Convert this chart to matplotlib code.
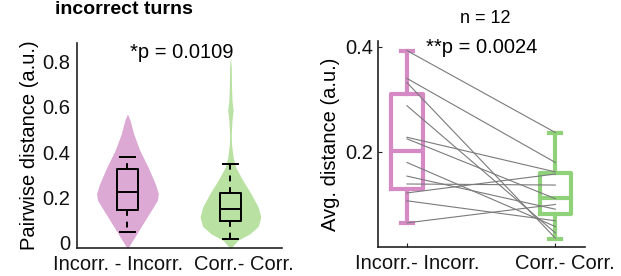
import matplotlib
matplotlib.use("Agg")
import matplotlib.pyplot as plt
import matplotlib.transforms as mtransforms
import numpy as np

plt.rcParams["font.family"] = ["Liberation Sans", "DejaVu Sans"]

# --- left panel: violin outlines (value, half width) ---
pink_y = [-0.03, 0.037, 0.111, 0.185, 0.215, 0.259, 0.333, 0.407, 0.481, 0.540, 0.570]
pink_w = [0.0, 0.09, 0.19, 0.29, 0.30, 0.27, 0.20, 0.12, 0.06, 0.026, 0.0]
green_y = [-0.03, 0.007, 0.037, 0.070, 0.111, 0.155, 0.215, 0.274, 0.333, 0.377,
           0.437, 0.480, 0.540, 0.585, 0.630, 0.700, 0.777, 0.825]
green_w = [0.0, 0.07, 0.19, 0.27, 0.295, 0.27, 0.20, 0.12, 0.05, 0.026,
           0.01, 0.008, 0.015, 0.026, 0.015, 0.01, 0.008, 0.0]

# box stats: whislo, q1, med, q3, whishi
pair_box_pink = [0.046, 0.142, 0.221, 0.323, 0.376]
pair_box_green = [0.012, 0.095, 0.147, 0.216, 0.347]

left_labels = ["Incorr. - Incorr.", "Corr.- Corr."]
left_p = "*p = 0.0109"

# --- right panel: per-animal averages ---
incorr = [0.393, 0.340, 0.332, 0.288, 0.228, 0.225, 0.180, 0.154, 0.139, 0.122, 0.107, 0.065]
corr = [0.237, 0.180, 0.036, 0.046, 0.162, 0.111, 0.058, 0.091, 0.137, 0.158, 0.069, 0.100]
avg_box_pink = [0.065, 0.130, 0.202, 0.311, 0.392]
avg_box_green = [0.035, 0.081, 0.112, 0.159, 0.236]
right_labels = ["Incorr.- Incorr.", "Corr.- Corr."]
right_p = "**p = 0.0024"
n_label = "n = 12"

pink_fill = "#dca8d4"
green_fill = "#b9e1a2"
pink_edge = "#d58ac6"
green_edge = "#8fd27a"
axis_col = "#222222"
fs = 14.5


def stats(vals):
    lo, q1, med, q3, hi = vals
    return {"whislo": lo, "q1": q1, "med": med, "q3": q3, "whishi": hi, "fliers": []}


def style_axes(ax):
    for s in ["top", "right"]:
        ax.spines[s].set_visible(False)
    for s in ["left", "bottom"]:
        ax.spines[s].set_color(axis_col)
        ax.spines[s].set_linewidth(1.2)
    ax.tick_params(direction="in", length=3, width=0.8, colors=axis_col,
                   labelsize=fs, labelcolor="#111111")


def shift_labels(ax, offsets):
    for lab, dx in zip(ax.get_xticklabels(), offsets):
        lab.set_transform(lab.get_transform() +
                          mtransforms.ScaledTranslation(dx / 100, 0, fig.dpi_scale_trans))


fig = plt.figure(figsize=(6.21, 2.76), dpi=100)

# left panel
ax1 = fig.add_axes((0.124, 0.101, 0.330, 0.743))
for pos, ys, ws, col in [(1, pink_y, pink_w, pink_fill), (2, green_y, green_w, green_fill)]:
    ys = np.array(ys)
    ws = np.array(ws)
    ax1.fill_betweenx(ys, pos - ws, pos + ws, color=col, lw=0)

ax1.bxp([stats(pair_box_pink), stats(pair_box_green)], positions=[1, 2], widths=0.2,
        showfliers=False, patch_artist=False,
        boxprops=dict(color="black", lw=1.4),
        medianprops=dict(color="black", lw=1.4),
        whiskerprops=dict(color="black", lw=1.4, ls=(0, (3, 3))),
        capprops=dict(color="black", lw=1.4), capwidths=0.15)
ax1.set_xlim(0.51, 2.5)
ax1.set_ylim(-0.027, 0.884)
ax1.set_yticks([0, 0.2, 0.4, 0.6, 0.8])
ax1.set_yticklabels(["0", "0.2", "0.4", "0.6", "0.8"])
ax1.set_xticks([1, 2])
ax1.set_xticklabels(left_labels)
ax1.set_ylabel("Pairwise distance (a.u.)", fontsize=fs, labelpad=2)
style_axes(ax1)
ax1.tick_params(axis="x", length=0, pad=5)
ax1.tick_params(axis="y", length=0, pad=5)
shift_labels(ax1, [-9, 13])
ax1.text(0.51, 0.955, left_p, transform=ax1.transAxes, ha="center", va="center", fontsize=fs)

# right panel
ax2 = fig.add_axes((0.609, 0.105, 0.333, 0.746))
for a, b in zip(incorr, corr):
    ax2.plot([1, 2], [a, b], color="#7a7a7a", lw=0.8, zorder=3)
ax2.bxp([stats(avg_box_pink)], positions=[1], widths=0.21, showfliers=False,
        boxprops=dict(color=pink_edge, lw=3),
        medianprops=dict(color=pink_edge, lw=3),
        whiskerprops=dict(color=pink_edge, lw=3),
        capprops=dict(color=pink_edge, lw=3), capwidths=0.08)
ax2.bxp([stats(avg_box_green)], positions=[2], widths=0.21, showfliers=False,
        boxprops=dict(color=green_edge, lw=3),
        medianprops=dict(color=green_edge, lw=3),
        whiskerprops=dict(color=green_edge, lw=3),
        capprops=dict(color=green_edge, lw=3), capwidths=0.08)
ax2.set_xlim(0.806, 2.2)
ax2.set_ylim(0.019, 0.411)
ax2.set_yticks([0.2, 0.4])
ax2.set_yticklabels(["0.2", "0.4"])
ax2.set_xticks([1, 2])
ax2.set_xticklabels(right_labels)
ax2.set_ylabel("Avg. distance (a.u.)", fontsize=fs, labelpad=4)
style_axes(ax2)
ax2.tick_params(axis="x", pad=5)
shift_labels(ax2, [10, 10])
ax2.text(0.5, 0.97, right_p, transform=ax2.transAxes, ha="center", va="center", fontsize=fs)

fig.text(0.089, 1 - 14 / 276, "incorrect turns", fontsize=14, fontweight="bold", va="baseline")
fig.text(0.781, 1 - 23 / 276, n_label, fontsize=13, ha="center", va="baseline")

fig.savefig("out.png", dpi=100)
